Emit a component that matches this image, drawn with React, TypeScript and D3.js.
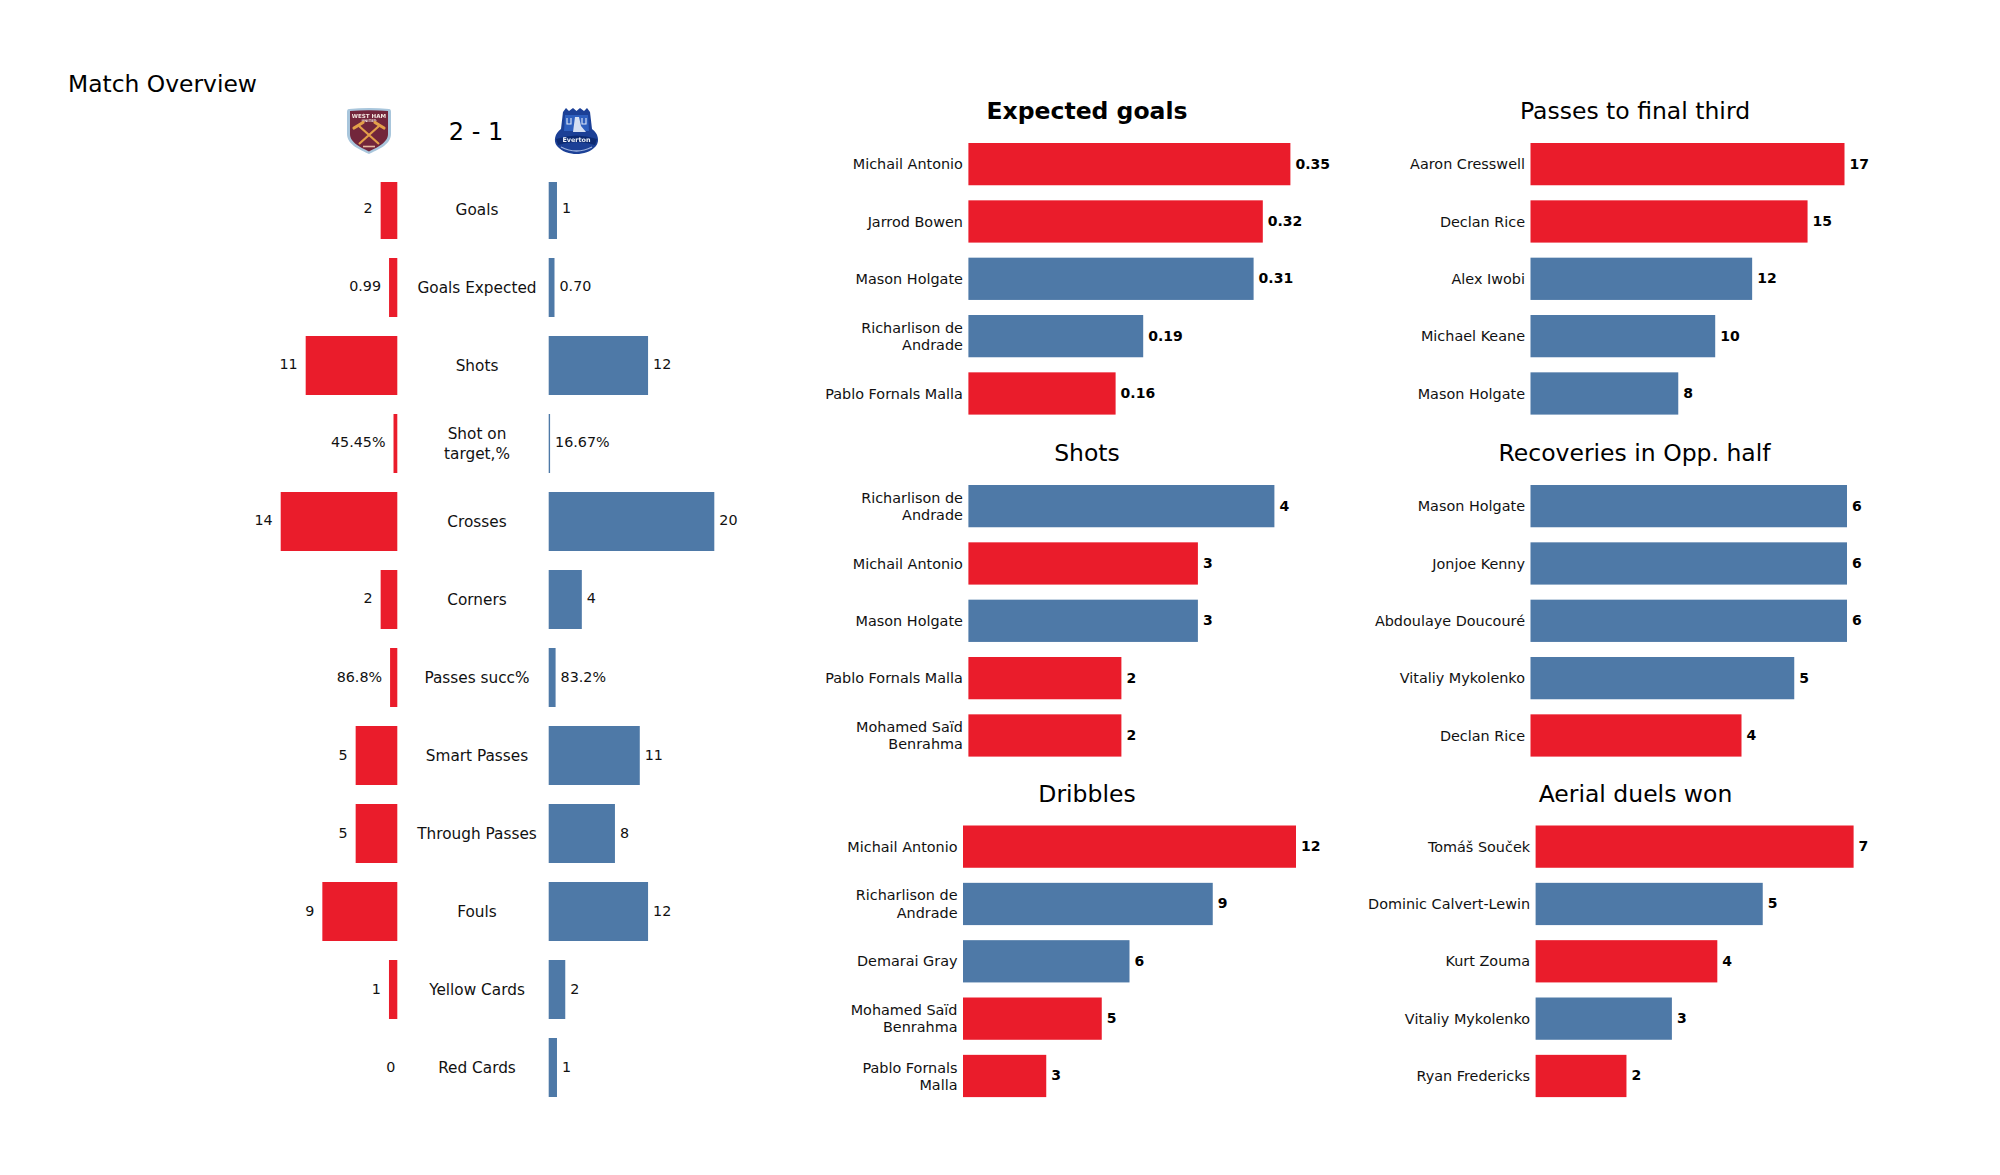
import * as d3 from 'd3'

const FONT = '"DejaVu Sans", sans-serif'
const RED = '#ea1c2b'
const BLUE = '#4e79a7'

// match overview table
const statNames = ['Goals', 'Goals Expected', 'Shots', 'Shot on\ntarget,%', 'Crosses', 'Corners', 'Passes succ%', 'Smart Passes', 'Through Passes', 'Fouls', 'Yellow Cards', 'Red Cards']
const homeValues = [2, 0.99, 11, 0.4545, 14, 2, 0.868, 5, 5, 9, 1, 0]
const awayValues = [1, 0.7, 12, 0.1667, 20, 4, 0.832, 11, 8, 12, 2, 1]
const homeLabels = ['2', '0.99', '11', '45.45%', '14', '2', '86.8%', '5', '5', '9', '1', '0']
const awayLabels = ['1', '0.70', '12', '16.67%', '20', '4', '83.2%', '11', '8', '12', '2', '1']

// player panels
const xgPlayers = ['Michail Antonio', 'Jarrod Bowen', 'Mason Holgate', 'Richarlison de\nAndrade', 'Pablo Fornals Malla']
const xgValues = [0.35, 0.32, 0.31, 0.19, 0.16]
const xgTeams = ['h', 'h', 'a', 'a', 'h']

const shotPlayers = ['Richarlison de\nAndrade', 'Michail Antonio', 'Mason Holgate', 'Pablo Fornals Malla', 'Mohamed Saïd\nBenrahma']
const shotValues = [4, 3, 3, 2, 2]
const shotTeams = ['a', 'h', 'a', 'h', 'h']

const dribblePlayers = ['Michail Antonio', 'Richarlison de\nAndrade', 'Demarai Gray', 'Mohamed Saïd\nBenrahma', 'Pablo Fornals\nMalla']
const dribbleValues = [12, 9, 6, 5, 3]
const dribbleTeams = ['h', 'a', 'a', 'h', 'h']

const passPlayers = ['Aaron Cresswell', 'Declan Rice', 'Alex Iwobi', 'Michael Keane', 'Mason Holgate']
const passValues = [17, 15, 12, 10, 8]
const passTeams = ['h', 'h', 'a', 'a', 'a']

const recoveryPlayers = ['Mason Holgate', 'Jonjoe Kenny', 'Abdoulaye Doucouré', 'Vitaliy Mykolenko', 'Declan Rice']
const recoveryValues = [6, 6, 6, 5, 4]
const recoveryTeams = ['a', 'a', 'a', 'a', 'h']

const aerialPlayers = ['Tomáš Souček', 'Dominic Calvert-Lewin', 'Kurt Zouma', 'Vitaliy Mykolenko', 'Ryan Fredericks']
const aerialValues = [7, 5, 4, 3, 2]
const aerialTeams = ['h', 'a', 'h', 'a', 'h']

const panels = [
  { title: 'Expected goals', bold: true, names: xgPlayers, values: xgValues, teams: xgTeams, fmt: (v: number) => v.toFixed(2), left: 968.4, pxMax: 322, titleX: 1087, titleY: 119, top: 143 },
  { title: 'Shots', bold: false, names: shotPlayers, values: shotValues, teams: shotTeams, fmt: String, left: 968.4, pxMax: 306, titleX: 1087, titleY: 461, top: 485 },
  { title: 'Dribbles', bold: false, names: dribblePlayers, values: dribbleValues, teams: dribbleTeams, fmt: String, left: 963, pxMax: 333, titleX: 1087, titleY: 802, top: 825.5 },
  { title: 'Passes to final third', bold: false, names: passPlayers, values: passValues, teams: passTeams, fmt: String, left: 1530.5, pxMax: 314, titleX: 1635, titleY: 119, top: 143 },
  { title: 'Recoveries in Opp. half', bold: false, names: recoveryPlayers, values: recoveryValues, teams: recoveryTeams, fmt: String, left: 1530.5, pxMax: 316.5, titleX: 1634.5, titleY: 461, top: 485 },
  { title: 'Aerial duels won', bold: false, names: aerialPlayers, values: aerialValues, teams: aerialTeams, fmt: String, left: 1535.6, pxMax: 318, titleX: 1635.5, titleY: 802, top: 825.5 },
]

function Lines({ text, x, y, size, anchor, gap }: { text: string; x: number; y: number; size: number; anchor: string; gap: number }) {
  const parts = text.split('\n')
  return (
    <>
      {parts.map((p, i) => (
        <text key={i} x={x} y={y + (i - (parts.length - 1) / 2) * gap + size * 0.36} fontSize={size} textAnchor={anchor} fill="#111">
          {p}
        </text>
      ))}
    </>
  )
}

function Panel({ p }: { p: (typeof panels)[number] }) {
  const x = d3.scaleLinear().domain([0, d3.max(p.values) as number]).range([p.left, p.left + p.pxMax])
  const y = d3.scaleBand().domain(d3.range(p.names.length).map(String)).range([p.top, p.top + 271.6]).paddingInner(0.263)
  return (
    <g>
      <text x={p.titleX} y={p.titleY} textAnchor="middle" fontSize={23.5} fontWeight={p.bold ? 'bold' : 'normal'} fill="#000">
        {p.title}
      </text>
      {p.values.map((v, i) => {
        const by = y(String(i)) as number
        const cy = by + y.bandwidth() / 2
        return (
          <g key={i}>
            <rect x={p.left} y={by} width={x(v) - p.left} height={y.bandwidth()} fill={p.teams[i] === 'h' ? RED : BLUE} />
            <Lines text={p.names[i]} x={p.left - 5.5} y={cy} size={14.4} anchor="end" gap={17.3} />
            <text x={x(v) + 5} y={cy + 4.5} fontSize={14} fontWeight="bold" fill="#000">
              {p.fmt(v)}
            </text>
          </g>
        )
      })}
    </g>
  )
}

function Overview() {
  const y = d3.scaleBand().domain(statNames).range([180, 1097]).paddingInner(0.2436)
  const homeWidth = d3.scaleLinear().domain([0, 14]).range([0, 116.6])
  const awayWidth = d3.scaleLinear().domain([0, 20]).range([0, 165.6])
  const homeEdge = 397.3
  const awayEdge = 548.7
  return (
    <g>
      {/* the first row of bars is cut off at the top of its axes */}
      <clipPath id="bars-clip">
        <rect x={0} y={182} width={2000} height={950} />
      </clipPath>
      <text x={68} y={92} fontSize={23.4} fill="#000">Match Overview</text>
      <text x={476} y={140} fontSize={24} textAnchor="middle" fill="#000">2 - 1</text>
      <WestHamCrest />
      <EvertonCrest />
      {statNames.map((name, i) => {
        const by = y(name) as number
        const cy = by + y.bandwidth() / 2
        const hw = homeWidth(homeValues[i])
        const aw = awayWidth(awayValues[i])
        return (
          <g key={name}>
            <g clipPath="url(#bars-clip)">
              <rect x={homeEdge - hw} y={by} width={hw} height={y.bandwidth()} fill={RED} />
              <rect x={awayEdge} y={by} width={aw} height={y.bandwidth()} fill={BLUE} />
            </g>
            <Lines text={name} x={477} y={cy} size={15.3} anchor="middle" gap={19.5} />
            <text x={homeEdge - hw - (homeValues[i] === 0 ? 2 : 8)} y={cy + 4} fontSize={14.3} textAnchor="end" fill="#111">
              {homeLabels[i]}
            </text>
            <text x={awayEdge + aw + 5} y={cy + 4} fontSize={14.3} fill="#111">
              {awayLabels[i]}
            </text>
          </g>
        )
      })}
    </g>
  )
}

function WestHamCrest() {
  return (
    <g transform="translate(347,108)" filter="url(#crest-blur)">
      <path d="M2,1 Q22,-1 42,1 Q44,1 44,4 L44,26 C44,37 30,42 22,46 C14,42 0,37 0,26 L0,4 Q0,1 2,1 Z" fill="#a9c6dc" />
      <path d="M3,3 Q22,1.5 41,3 L41,26 C41,35 29,40 22,43.5 C15,40 3,35 3,26 Z" fill="#72253b" />
      <text x={22} y={9.5} fontSize={5.6} fontWeight="bold" textAnchor="middle" fill="#f3e9e0">WEST HAM</text>
      <text x={22} y={14} fontSize={3.6} fontWeight="bold" textAnchor="middle" fill="#f3e9e0">UNITED</text>
      <path d="M12,18 L32,36 M32,18 L12,36" stroke="#e3a04a" strokeWidth={2.2} />
      <path d="M7,20 L16,14.5 M28,14.5 L37,20" stroke="#e3a04a" strokeWidth={3.2} strokeLinecap="round" />
      <path d="M16,38.5 L28,38.5" stroke="#e6b9a0" strokeWidth={1.6} />
    </g>
  )
}

function EvertonCrest() {
  return (
    <g transform="translate(554,108)" filter="url(#crest-blur)">
      <path d="M9,4 L12,0 L15,3 L19,0 L22.5,3 L26,0 L30,3 L33,0 L36,4 L38,21 C44,25 46,33 42,38 C37,44 29,46 22.5,46 C16,46 8,44 3,38 C-1,33 1,25 7,21 Z" fill="#1a3f96" />
      <path d="M11,7 L34,7 L35,23 L10,23 Z" fill="#2f5fbe" />
      <path d="M13,10 V16 H17 V10 M28,10 V16 H32 V10" fill="none" stroke="#dfe8f7" strokeWidth={1.1} />
      <path d="M21,9 L25,9 L27,18 L32,24 L19,24 Z" fill="#d6e0f2" />
      <path d="M2,31 Q22.5,24 43,31 L41,37 Q22.5,31 4,37 Z" fill="#0d2c72" />
      <text x={22.5} y={33.5} fontSize={6.4} fontWeight="bold" textAnchor="middle" fill="#f2f5fb">Everton</text>
      <path d="M7,39 Q22.5,47 38,39" fill="none" stroke="#9db2de" strokeWidth={1.3} />
    </g>
  )
}

export default function App() {
  return (
    <svg width={2000} height={1175} viewBox="0 0 2000 1175" style={{ position: 'absolute', left: 0, top: 0, background: '#fff' }} fontFamily={FONT}>
      <filter id="crest-blur">
        <feGaussianBlur stdDeviation={0.45} />
      </filter>
      <Overview />
      {panels.map((p) => (
        <Panel key={p.title} p={p} />
      ))}
    </svg>
  )
}
